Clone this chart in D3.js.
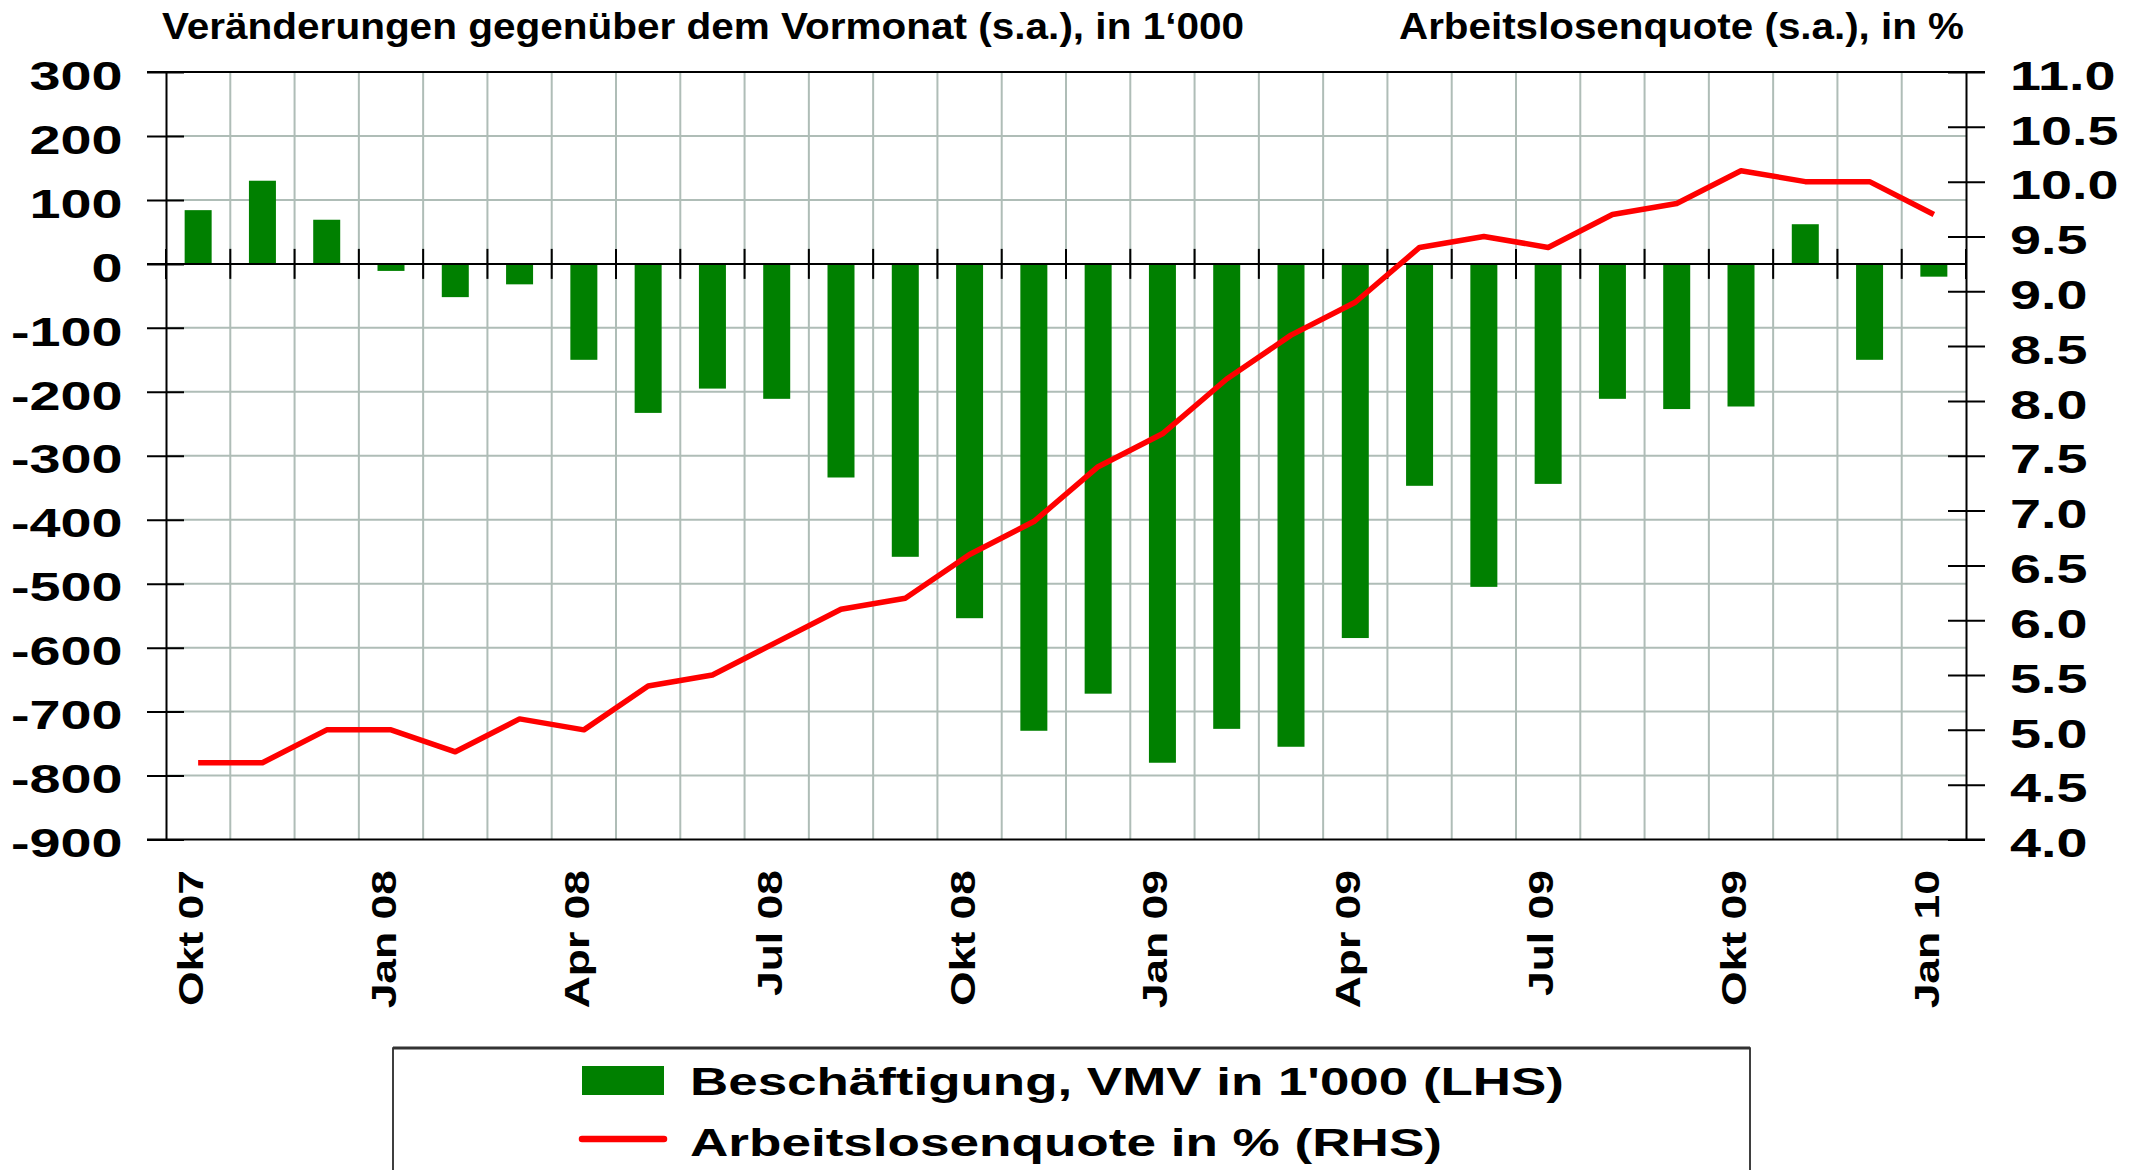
<!DOCTYPE html>
<html>
<head>
<meta charset="utf-8">
<script src="https://cdn.jsdelivr.net/npm/d3@7"></script>
<style>
  body { margin: 0; background: #fff; }
  text { font-family: "Liberation Sans", Arial, sans-serif; font-weight: bold; fill: #000; }
</style>
</head>
<body>
<script>
/*chart data*/
var months = ["Okt 07","Nov 07","Dez 07","Jan 08","Feb 08","Mär 08","Apr 08","Mai 08","Jun 08","Jul 08",
	"Aug 08","Sep 08","Okt 08","Nov 08","Dez 08","Jan 09","Feb 09","Mär 09","Apr 09","Mai 09",
	"Jun 09","Jul 09","Aug 09","Sep 09","Okt 09","Nov 09","Dez 09","Jan 10"];
var labelMonths = ["Okt 07","Jan 08","Apr 08","Jul 08","Okt 08","Jan 09","Apr 09","Jul 09","Okt 09","Jan 10"];
var employment = [84,130,69,-11,-52,-32,-150,-233,-195,-211,
	-334,-458,-554,-730,-672,-780,-727,-755,-585,-347,
	-505,-344,-211,-227,-223,62,-150,-20];
var unemployment = [4.7,4.7,5.0,5.0,4.8,5.1,5.0,5.4,5.5,5.8,
	6.1,6.2,6.6,6.9,7.4,7.7,8.2,8.6,8.9,9.4,
	9.5,9.4,9.7,9.8,10.1,10.0,10.0,9.7];
var leftTicks = [-900,-800,-700,-600,-500,-400,-300,-200,-100,0,100,200,300];
var rightTicks = [4.0,4.5,5.0,5.5,6.0,6.5,7.0,7.5,8.0,8.5,9.0,9.5,10.0,10.5,11.0];
var leftTitle = "Veränderungen gegenüber dem Vormonat (s.a.), in 1‘000";
var rightTitle = "Arbeitslosenquote (s.a.), in %";
var legendLabels = ["Beschäftigung, VMV in 1'000 (LHS)", "Arbeitslosenquote in % (RHS)"];

/*size of the picture and the plot area*/
var svgWidth = 2130;
var svgHeight = 1170;
var margin = { top: 72, left: 166 };
var width = 1800;
var height = 767.5;
var gridColor = "#afbdb7";
var barColor = "#008000";
var lineColor = "#ff0000";
var textStretch = 1.36;

var svg = d3.select("body")
	.append("svg")
	.attr("width", svgWidth)
	.attr("height", svgHeight)
	.style("display", "block");

svg.append("rect")
	.attr("width", svgWidth)
	.attr("height", svgHeight)
	.attr("fill", "#fff");

var chartGroup = svg.append("g")
	.attr("transform", `translate(${margin.left}, ${margin.top})`);

/*scales*/
var xScale = d3.scaleBand()
	.domain(months)
	.range([0, width])
	.paddingInner(0.58)
	.paddingOuter(0.29);
var step = xScale.step();
var yLeft = d3.scaleLinear().domain([-900, 300]).range([height, 0]);
var yRight = d3.scaleLinear().domain([4, 11]).range([height, 0]);
var center = m => xScale(m) + xScale.bandwidth() / 2;

/*horizontal grid lines at the left ticks*/
chartGroup.selectAll(".hgrid")
	.data(leftTicks.filter(d => d != 0 && d != -900 && d != 300))
	.enter()
	.append("line")
	.attr("x1", 0)
	.attr("x2", width)
	.attr("y1", d => yLeft(d))
	.attr("y2", d => yLeft(d))
	.attr("stroke", gridColor)
	.attr("stroke-width", 2);

/*vertical grid lines between the months*/
chartGroup.selectAll(".vgrid")
	.data(d3.range(1, months.length))
	.enter()
	.append("line")
	.attr("x1", i => i * step)
	.attr("x2", i => i * step)
	.attr("y1", 0)
	.attr("y2", height)
	.attr("stroke", gridColor)
	.attr("stroke-width", 2);

/*bars*/
chartGroup.selectAll(".bar")
	.data(employment)
	.enter()
	.append("rect")
	.attr("x", (d, i) => xScale(months[i]))
	.attr("width", xScale.bandwidth())
	.attr("y", d => yLeft(Math.max(d, 0)))
	.attr("height", d => Math.abs(yLeft(d) - yLeft(0)))
	.attr("fill", barColor);

/*frame lines: top, bottom and zero*/
[yLeft(300), yLeft(-900)].forEach(function (y) {
	chartGroup.append("line")
		.attr("x1", -19).attr("x2", width + 19)
		.attr("y1", y).attr("y2", y)
		.attr("stroke", "#000").attr("stroke-width", 2);
});
chartGroup.append("line")
	.attr("x1", -19).attr("x2", width)
	.attr("y1", yLeft(0)).attr("y2", yLeft(0))
	.attr("stroke", "#000").attr("stroke-width", 2);

/*month ticks crossing the zero line*/
chartGroup.selectAll(".xtick")
	.data(d3.range(0, months.length + 1))
	.enter()
	.append("line")
	.attr("x1", i => i * step)
	.attr("x2", i => i * step)
	.attr("y1", yLeft(0) - 15)
	.attr("y2", yLeft(0) + 15)
	.attr("stroke", "#000")
	.attr("stroke-width", 2);

/*left axis (plain hyphen for negative numbers, like the original)*/
var leftAxis = d3.axisLeft(yLeft).tickValues(leftTicks).tickSizeInner(19).tickSizeOuter(0)
	.tickFormat(d => String(d));
var leftAxisGroup = chartGroup.append("g").call(leftAxis);
styleAxis(leftAxisGroup, 18, -43.5 / textStretch, "end");

/*right axis*/
var rightAxis = d3.axisRight(yRight).tickValues(rightTicks).tickSizeInner(19).tickSizeOuter(0)
	.tickFormat(d => d.toFixed(1));
var rightAxisGroup = chartGroup.append("g")
	.attr("transform", `translate(${width}, 0)`)
	.call(rightAxis);
styleAxis(rightAxisGroup, -18, 44 / textStretch, "start");

/*unemployment line*/
var line = d3.line()
	.x((d, i) => center(months[i]))
	.y(d => yRight(d));
chartGroup.append("path")
	.datum(unemployment)
	.attr("d", line)
	.attr("fill", "none")
	.attr("stroke", lineColor)
	.attr("stroke-width", 5.5)
	.attr("stroke-linejoin", "round");

/*month labels, rotated*/
chartGroup.selectAll(".xlabel")
	.data(labelMonths)
	.enter()
	.append("text")
	.attr("transform", d => `translate(${center(d) + 5}, ${870 - margin.top}) rotate(-90) scale(1.27, 1)`)
	.attr("text-anchor", "end")
	.style("font-size", "35px")
	.text(d => d);

/*titles above the axes*/
svg.append("text")
	.attr("x", 162)
	.attr("y", 39)
	.attr("textLength", 1082)
	.attr("lengthAdjust", "spacingAndGlyphs")
	.style("font-size", "36px")
	.text(leftTitle);
svg.append("text")
	.attr("x", 1399)
	.attr("y", 39)
	.attr("textLength", 565)
	.attr("lengthAdjust", "spacingAndGlyphs")
	.style("font-size", "36px")
	.text(rightTitle);

/*legend*/
var legend = svg.append("g");
legend.append("rect")
	.attr("x", 393).attr("y", 1048)
	.attr("width", 1357).attr("height", 200)
	.attr("fill", "#fff")
	.attr("stroke", "#000").attr("stroke-width", 1.5);
legend.append("line")
	.attr("x1", 393).attr("x2", 1750)
	.attr("y1", 1048).attr("y2", 1048)
	.attr("stroke", "#333").attr("stroke-width", 3);
legend.append("rect")
	.attr("x", 582).attr("y", 1066)
	.attr("width", 82).attr("height", 29)
	.attr("fill", barColor);
legend.append("line")
	.attr("x1", 582).attr("x2", 664)
	.attr("y1", 1139).attr("y2", 1139)
	.attr("stroke", lineColor).attr("stroke-width", 6.5)
	.attr("stroke-linecap", "round");
legend.append("text")
	.attr("x", 690).attr("y", 1095)
	.attr("textLength", 874)
	.attr("lengthAdjust", "spacingAndGlyphs")
	.style("font-size", "39px")
	.text(legendLabels[0]);
legend.append("text")
	.attr("x", 690).attr("y", 1156)
	.attr("textLength", 752)
	.attr("lengthAdjust", "spacingAndGlyphs")
	.style("font-size", "39px")
	.text(legendLabels[1]);

/*make ticks cross the axis line and stretch the tick labels*/
function styleAxis(group, crossing, textX, anchor) {
	group.attr("font-family", null).attr("font-size", null);
	group.select(".domain")
		.attr("stroke", "#000")
		.attr("stroke-width", 2);
	group.selectAll(".tick line")
		.attr("x1", crossing)
		.attr("stroke", "#000")
		.attr("stroke-width", 2);
	group.selectAll(".tick text")
		.attr("x", textX)
		.attr("dy", "0.42em")
		.attr("text-anchor", anchor)
		.attr("transform", `scale(${textStretch}, 1)`)
		.style("font-size", "41px");
}
</script>
</body>
</html>
